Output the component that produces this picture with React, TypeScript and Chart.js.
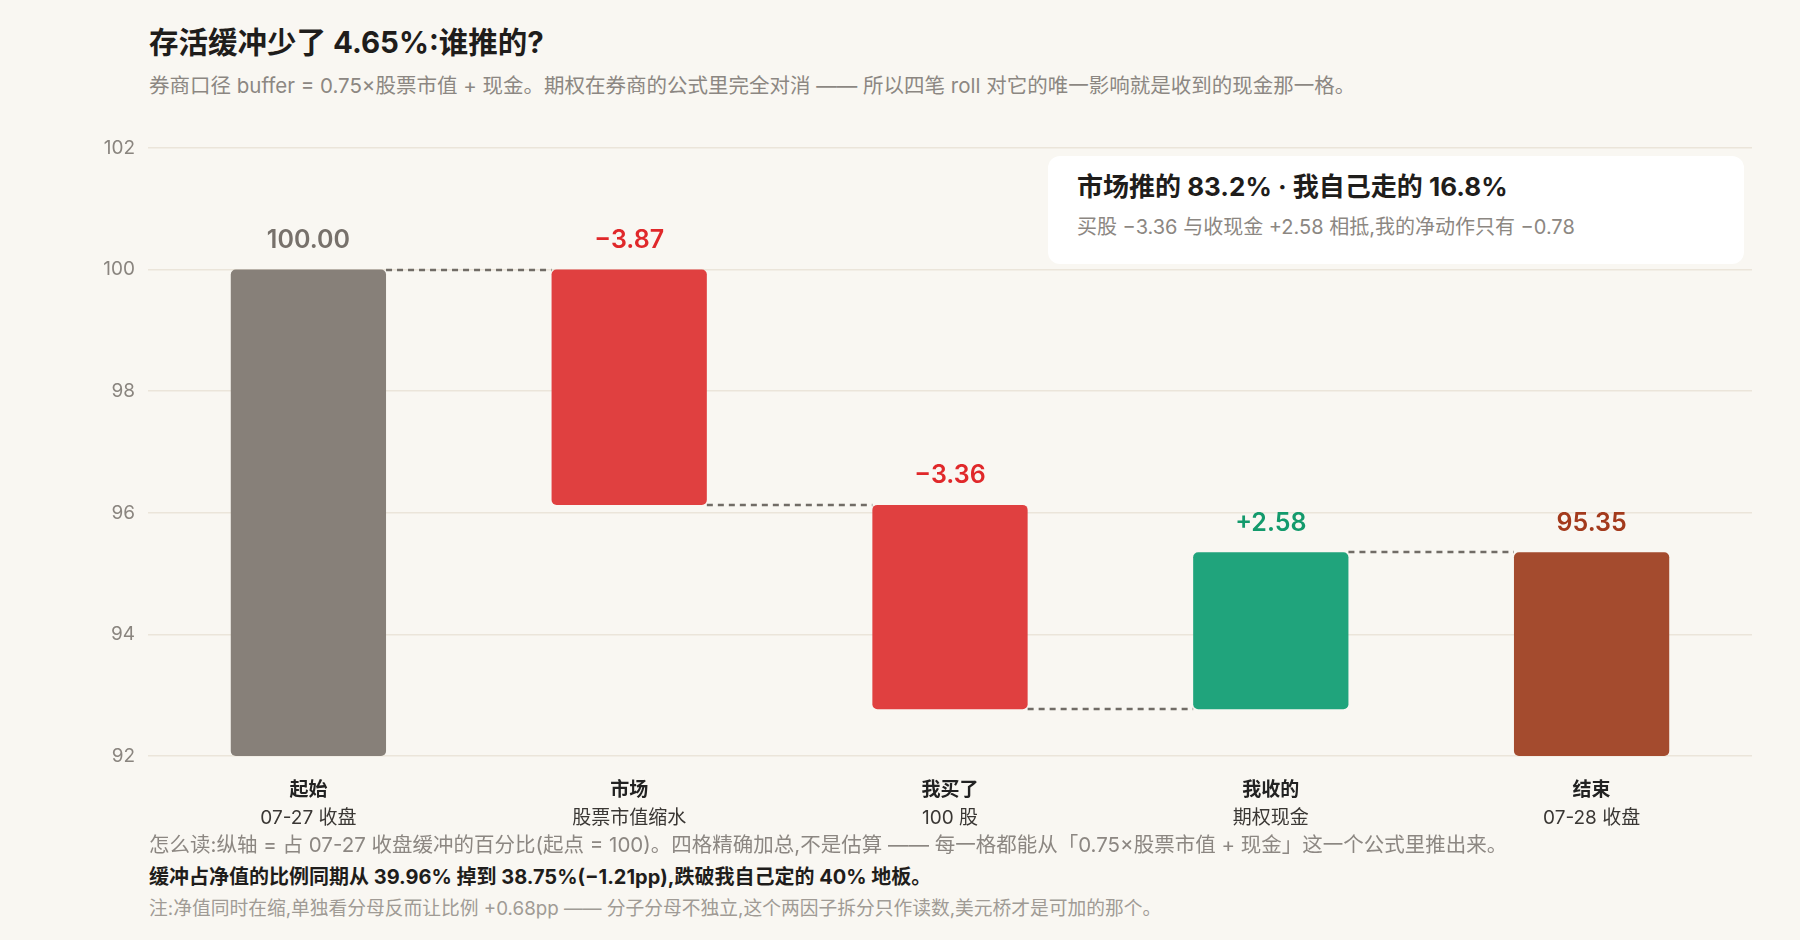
import React, { useEffect, useRef } from 'react';
import { Chart, registerables } from 'chart.js';

Chart.register(...registerables);

const FONT = "Inter, 'Noto Sans CJK SC', 'Noto Sans', sans-serif";

// === Data ===
const CATEGORIES = ['起始', '市场', '我买了', '我收的', '结束'];
const SUB_LABELS = ['07-27 收盘', '股票市值缩水', '100 股', '期权现金', '07-28 收盘'];
const VALUES = [100.0, -3.87, -3.36, 2.58, 95.35];
const KINDS = ['total', 'delta', 'delta', 'delta', 'total'];
const Y_MIN = 92;
const Y_MAX = 102;
const Y_STEP = 2;

// === Colours ===
const BAR_COLORS = ['#878079', '#e04040', '#e04040', '#20a47c', '#a44b2e'];
const LABEL_COLORS = ['#77716b', '#e0282a', '#e0282a', '#139a6c', '#a33a1c'];

// === Waterfall ranges ===
const ranges: [number, number][] = [];
const levels: number[] = [];
let run = 0;
VALUES.forEach((v, i) => {
  if (KINDS[i] === 'total') {
    ranges.push([Y_MIN, v]);
    run = v;
  } else {
    const next = run + v;
    ranges.push([Math.min(run, next), Math.max(run, next)]);
    run = next;
  }
  levels.push(run);
});

const formatValue = (i: number) => {
  const v = VALUES[i];
  if (KINDS[i] === 'total') return v.toFixed(2);
  return (v > 0 ? '+' : '−') + Math.abs(v).toFixed(2);
};

// connectors, value labels and two-line category labels
const waterfallPlugin = {
  id: 'waterfall',
  afterDatasetsDraw(chart: any) {
    const { ctx, chartArea } = chart;
    const meta = chart.getDatasetMeta(0);
    const y = chart.scales.y;
    const x = chart.scales.x;
    ctx.save();

    ctx.strokeStyle = '#716c66';
    ctx.lineWidth = 2.5;
    ctx.setLineDash([6, 5]);
    for (let i = 0; i < meta.data.length - 1; i++) {
      const a = meta.data[i];
      const b = meta.data[i + 1];
      const py = Math.round(y.getPixelForValue(levels[i]));
      ctx.beginPath();
      ctx.moveTo(a.x + a.width / 2, py);
      ctx.lineTo(b.x - b.width / 2, py);
      ctx.stroke();
    }
    ctx.setLineDash([]);

    ctx.textAlign = 'center';
    ctx.textBaseline = 'middle';
    ctx.font = `600 25px ${FONT}`;
    meta.data.forEach((el: any, i: number) => {
      const top = y.getPixelForValue(ranges[i][1]);
      ctx.fillStyle = LABEL_COLORS[i];
      ctx.fillText(formatValue(i), el.x, top - 29);
    });

    CATEGORIES.forEach((c, i) => {
      const cx = x.getPixelForValue(i);
      ctx.font = `bold 19px ${FONT}`;
      ctx.fillStyle = '#222';
      ctx.fillText(c, cx, chartArea.bottom + 34);
      ctx.font = `19px ${FONT}`;
      ctx.fillStyle = '#3a3734';
      ctx.fillText(SUB_LABELS[i], cx, chartArea.bottom + 62);
    });
    ctx.restore();
  },
};

const text = (top: number, size: number, color: string, weight = 400): React.CSSProperties => ({
  position: 'absolute',
  left: 149,
  top,
  fontSize: size,
  lineHeight: '30px',
  color,
  fontWeight: weight,
  whiteSpace: 'nowrap',
});

export default function App() {
  const canvasRef = useRef<HTMLCanvasElement>(null);

  useEffect(() => {
    if (!canvasRef.current) return;
    const chart = new Chart(canvasRef.current, {
      type: 'bar',
      data: {
        labels: CATEGORIES,
        datasets: [
          {
            data: ranges as any,
            backgroundColor: BAR_COLORS,
            borderRadius: 5,
            borderSkipped: false,
            barPercentage: 0.484,
            categoryPercentage: 1,
          },
        ],
      },
      options: {
        animation: false,
        responsive: true,
        maintainAspectRatio: false,
        layout: { padding: { top: 28, right: 48, bottom: 84, left: 0 } },
        plugins: { legend: { display: false }, tooltip: { enabled: false } },
        scales: {
          x: { display: false },
          y: {
            min: Y_MIN,
            max: Y_MAX,
            ticks: { stepSize: Y_STEP, padding: 13, color: '#8a857f', font: { family: FONT, size: 19 } },
            grid: { color: '#ebe5da', lineWidth: 1.5, drawTicks: false },
            border: { display: false },
            afterFit: (s: any) => {
              s.width = 148;
            },
          },
        },
      },
      plugins: [waterfallPlugin],
    });
    return () => chart.destroy();
  }, []);

  return (
    <div
      style={{
        position: 'fixed',
        left: 0,
        top: 0,
        width: 1800,
        height: 940,
        background: '#f9f7f2',
        fontFamily: FONT,
        overflow: 'hidden',
      }}
    >
      <div style={{ ...text(22, 29.5, '#1f1d1b', 700), lineHeight: '40px' }}>存活缓冲少了 4.65%:谁推的?</div>
      <div style={text(71, 20.5, '#8c8782')}>
        券商口径 buffer = 0.75×股票市值 + 现金。期权在券商的公式里完全对消 —— 所以四笔 roll 对它的唯一影响就是收到的现金那一格。
      </div>

      <div style={{ position: 'absolute', left: 0, top: 120, width: 1800, height: 720 }}>
        <canvas ref={canvasRef} />
      </div>

      <div
        style={{
          position: 'absolute',
          left: 1048,
          top: 156,
          width: 696,
          height: 108,
          background: '#ffffff',
          borderRadius: 12,
        }}
      >
        <div style={{ position: 'absolute', left: 29, top: 15, fontSize: 26, lineHeight: '32px', fontWeight: 700, color: '#1f1d1b', whiteSpace: 'nowrap' }}>
          市场推的 83.2% · 我自己走的 16.8%
        </div>
        <div style={{ position: 'absolute', left: 29, top: 58, fontSize: 20, lineHeight: '26px', color: '#8c8782', whiteSpace: 'nowrap' }}>
          买股 −3.36 与收现金 +2.58 相抵,我的净动作只有 −0.78
        </div>
      </div>

      <div style={text(830, 20.5, '#8c8782')}>
        怎么读:纵轴 = 占 07-27 收盘缓冲的百分比(起点 = 100)。四格精确加总,不是估算 —— 每一格都能从「0.75×股票市值 + 现金」这一个公式里推出来。
      </div>
      <div style={text(862, 20, '#1f1d1b', 700)}>
        缓冲占净值的比例同期从 39.96% 掉到 38.75%(−1.21pp),跌破我自己定的 40% 地板。
      </div>
      <div style={text(894, 18.75, '#a09b95')}>
        注:净值同时在缩,单独看分母反而让比例 +0.68pp —— 分子分母不独立,这个两因子拆分只作读数,美元桥才是可加的那个。
      </div>
    </div>
  );
}
